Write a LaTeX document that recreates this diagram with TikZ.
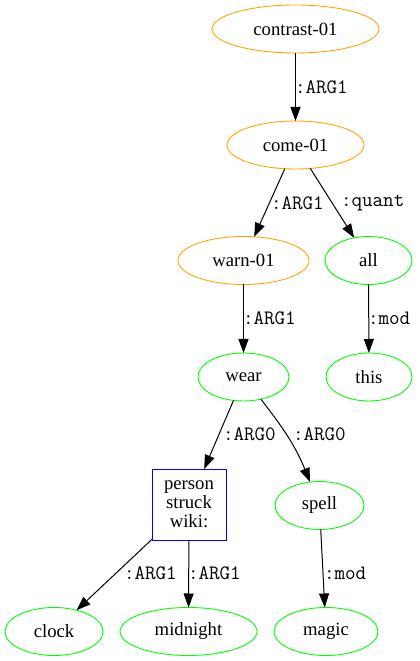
\documentclass[tikz,border=0pt]{standalone}
\usepackage{fontspec}
\setmainfont{Liberation Serif}
\usetikzlibrary{arrows.meta,shapes.geometric}

\definecolor{amrorange}{RGB}{255,165,0}
\definecolor{amrgreen}{RGB}{0,255,0}
\definecolor{amrblue}{RGB}{0,0,255}

\begin{document}
\begin{tikzpicture}[
  x=1pt,
  y=1pt,
  every node/.style={inner sep=0pt, outer sep=0pt},
  amrText/.style={font=\fontsize{18.7}{19}\selectfont, text=black, align=center},
  amrLabel/.style={font=\ttfamily\fontsize{20.5}{21}\selectfont, text=black, anchor=west},
  amrEdge/.style={draw=black, line width=1pt, -{Triangle[length=14pt,width=10pt]}},
  amrEvent/.style={amrText, ellipse, draw=amrorange, line width=0.9pt, minimum height=48pt},
  amrConcept/.style={amrText, ellipse, draw=amrgreen, line width=0.9pt, minimum height=48pt},
  amrEntity/.style={amrText, rectangle, draw=amrblue, line width=0.9pt, minimum width=74pt, minimum height=71pt}
]

  \path[use as bounding box] (0,0) rectangle (420,661);

  % Nodes
  \node[amrEvent, minimum width=167pt] (contrast) at (295.5,632) {contrast-01};
  \node[amrEvent, minimum width=137pt] (come) at (295.5,516) {come-01};
  \node[amrEvent, minimum width=131pt] (warn) at (243.5,400.5) {warn-01};
  \node[amrConcept, minimum width=87pt] (all) at (368.5,400.5) {all};
  \node[amrConcept, minimum width=91pt] (wear) at (243.5,284) {wear};
  \node[amrConcept, minimum width=86pt] (this) at (369,284) {this};
  \node[amrEntity] (person) at (189,156.5) {person\\struck\\wiki:};
  \node[amrConcept, minimum width=89pt] (spell) at (319.5,155.5) {spell};
  \node[amrConcept, minimum width=98pt] (clock) at (54,29.5) {clock};
  \node[amrConcept, minimum width=137pt] (midnight) at (188.5,29.5) {midnight};
  \node[amrConcept, minimum width=104pt] (magic) at (326,29.5) {magic};

  % Edges
  \draw[amrEdge] (contrast) -- (come);
  \draw[amrEdge] (come) -- (warn);
  \draw[amrEdge] (come) -- (all);
  \draw[amrEdge] (warn) -- (wear);
  \draw[amrEdge] (all) -- (this);
  \draw[amrEdge] (wear) -- (person);
  \draw[amrEdge] (wear) to[out=-52, in=112] (spell);
  \draw[amrEdge] (person) -- (clock);
  \draw[amrEdge] (person) -- (midnight);
  \draw[amrEdge] (spell) -- (magic);

  % Edge labels
  \node[amrLabel] (lContrast) at (295,574) {:ARG1};
  \node[amrLabel] (lComeWarn) at (271,458) {:ARG1};
  \node[amrLabel] (lComeAll) at (341,458) {:quant};
  \node[amrLabel] (lWarn) at (243,343) {:ARG1};
  \node[amrLabel] (lAll) at (368,343) {:mod};
  \node[amrLabel] (lWearPerson) at (223,227) {:ARG0};
  \node[amrLabel] (lWearSpell) at (293,227) {:ARG0};
  \node[amrLabel] (lClock) at (124,88) {:ARG1};
  \node[amrLabel] (lMidnight) at (188,88) {:ARG1};
  \node[amrLabel] (lSpell) at (324,88) {:mod};

\end{tikzpicture}
\end{document}
